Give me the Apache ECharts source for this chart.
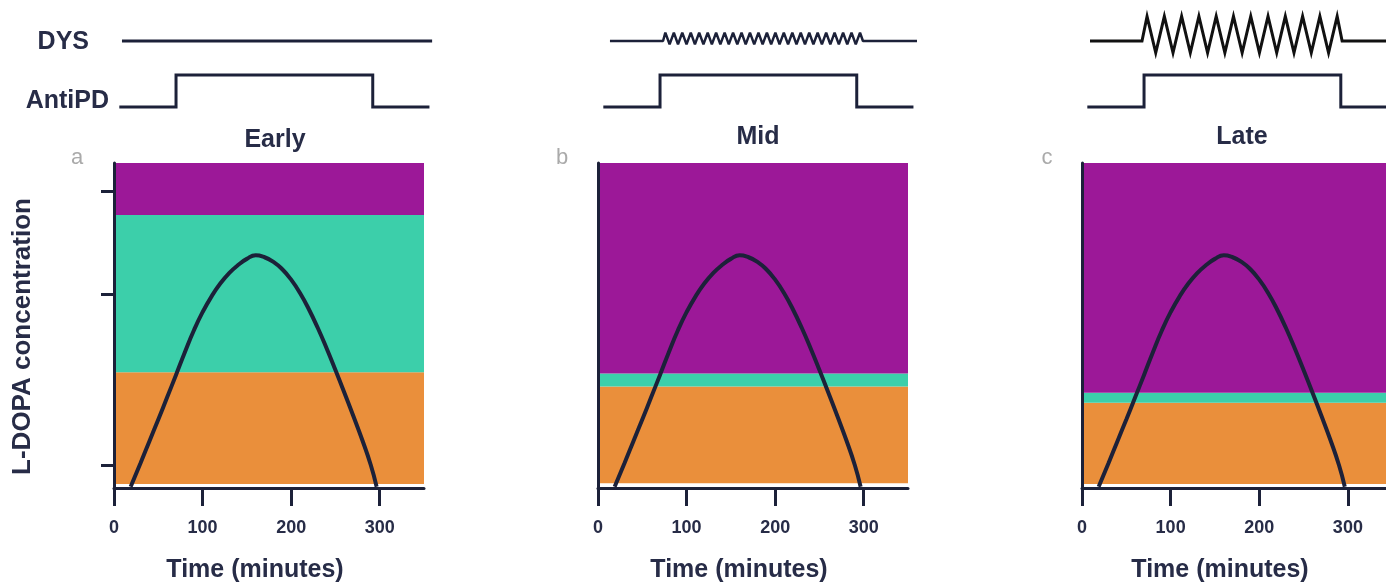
<!DOCTYPE html>
<html>
<head>
<meta charset="utf-8">
<title>L-DOPA concentration</title>
<script src="https://cdn.jsdelivr.net/npm/echarts@6/dist/echarts.min.js"></script>
<style>
  html, body { margin: 0; padding: 0; background: #fff; }
  #main { width: 1386px; height: 582px; }
</style>
</head>
<body>
<div id="main"></div>
<script>
  // tick values
  const timeTicks = [0, 100, 200, 300];
  const concTicks = [7, 59.7, 91.4];

  const panelTitles = ['Early', 'Mid', 'Late'];
  const panelLetters = ['a', 'b', 'c'];

  // same L-DOPA dose curve in every panel (minutes, concentration)
  const doseTimes = [18.8, 30, 40, 50, 60, 70, 80, 90, 100, 110, 120, 130, 140, 150, 160,
    170, 180, 190, 200, 210, 220, 230, 240, 250, 260, 270, 280, 290, 296.5];
  const doseConc = [0.4, 7.7, 14.4, 21.1, 27.9, 34.8, 41.8, 48.4, 54.1, 58.9, 62.9, 66.1, 68.6, 70.5, 71.6,
    71.0, 69.6, 67.3, 64.1, 60.0, 55.0, 49.3, 43.0, 36.3, 29.4, 22.3, 15.0, 7.0, 0.4];

  // band edges: orange [0]-[1], green [1]-[2], purple [2]-[3]
  const bandsEarly = [1.2, 35.6, 84, 100];
  const bandsMid = [1.5, 31.2, 35.2, 100];
  const bandsLate = [1.2, 26.2, 29.3, 100];

  // AntiPD trace (off = 0, on = 1)
  const antiTimes = [6, 70, 70, 292, 292, 356];
  const antiLevels = [0, 0, 1, 1, 0, 0];

  // DYS traces
  const dysEarlyTimes = [9, 359];
  const dysEarlyLevels = [0, 0];

  const dysMidTimes = [13.5, 73.4,
    76.0, 80.8, 85.6, 90.3, 95.1, 99.9, 104.7, 109.4, 114.2, 119.0, 123.8, 128.5,
    133.3, 138.1, 142.9, 147.6, 152.4, 157.2, 162.0, 166.7, 171.5, 176.3, 181.1, 185.8,
    190.6, 195.4, 200.2, 204.9, 209.7, 214.5, 219.3, 224.0, 228.8, 233.6, 238.4, 243.1,
    247.9, 252.7, 257.5, 262.2, 267.0, 271.8, 276.6, 281.3, 286.1, 290.9, 295.7,
    299, 360];
  const dysMidLevels = [0, 0,
    0.3, -0.12, 0.3, -0.12, 0.3, -0.12, 0.3, -0.12, 0.3, -0.12, 0.3, -0.12,
    0.3, -0.12, 0.3, -0.12, 0.3, -0.12, 0.3, -0.12, 0.3, -0.12, 0.3, -0.12,
    0.3, -0.12, 0.3, -0.12, 0.3, -0.12, 0.3, -0.12, 0.3, -0.12, 0.3, -0.12,
    0.3, -0.12, 0.3, -0.12, 0.3, -0.12, 0.3, -0.12, 0.3, -0.12, 0.3,
    0, 0];

  const dysLateTimes = [9, 67.7,
    73.4, 83.2, 92.9, 102.7, 112.4, 122.2, 131.9, 141.7, 151.4, 161.2, 170.9, 180.7,
    190.4, 200.2, 209.9, 219.7, 229.4, 239.2, 248.9, 258.7, 268.4, 278.2, 287.9,
    293.5, 360];
  const dysLateLevels = [0, 0,
    0.88, -0.42, 0.88, -0.42, 0.88, -0.42, 0.88, -0.42, 0.88, -0.42, 0.88, -0.42,
    0.88, -0.42, 0.88, -0.42, 0.88, -0.42, 0.88, -0.42, 0.88, -0.42, 0.88,
    0, 0];

  const bands = [bandsEarly, bandsMid, bandsLate];
  const dysTimes = [dysEarlyTimes, dysMidTimes, dysLateTimes];
  const dysLevels = [dysEarlyLevels, dysMidLevels, dysLateLevels];

  // last panel is cut by the right edge of the page
  const lefts = [114, 598, 1082];
  const widths = [310, 310, 304];
  const maxTimes = [350, 350, 343];
  const lineColor = '#1c2139';
  const textColor = '#272c47';
  const bandColors = ['#ea8f3b', '#3ccfaa', '#9c1898'];
  const font = 'Liberation Sans, Arial, sans-serif';

  const zip = (xs, ys) => xs.map((x, k) => [x, ys[k]]);

  let grid = [], xAxis = [], yAxis = [], series = [], graphic = [];

  for (let i = 0; i < 3; i++) {
    const g = i * 3;
    const pxPerMin = widths[i] / maxTimes[i];
    const traceMax = i === 2 ? maxTimes[i] : 360;
    const traceWidth = Math.round(traceMax * pxPerMin);
    // main plot, DYS trace, AntiPD trace
    grid.push({ left: lefts[i], top: 163, width: widths[i], height: 325, outerBoundsMode: 'none' });
    grid.push({ left: lefts[i], top: 13, width: traceWidth, height: 56, outerBoundsMode: 'none' });
    grid.push({ left: lefts[i], top: 75, width: traceWidth, height: 32, outerBoundsMode: 'none' });

    xAxis.push({
      gridIndex: g, type: 'value', min: 0, max: maxTimes[i], z: 10,
      axisLine: { lineStyle: { color: lineColor, width: 3 } },
      axisTick: { customValues: timeTicks, length: 18, lineStyle: { color: lineColor, width: 3 } },
      axisLabel: { customValues: timeTicks, margin: 31, fontSize: 18, fontWeight: 'bold', color: textColor, fontFamily: font },
      splitLine: { show: false },
      name: 'Time (minutes)', nameLocation: 'middle', nameGap: 70,
      nameTextStyle: { fontSize: 25, fontWeight: 'bold', color: textColor, fontFamily: font, padding: [0, 28, 0, 0] }
    });
    xAxis.push({ gridIndex: g + 1, type: 'value', min: 0, max: traceMax, show: false });
    xAxis.push({ gridIndex: g + 2, type: 'value', min: 0, max: traceMax, show: false });

    yAxis.push({
      gridIndex: g, type: 'value', min: 0, max: 100, z: 10,
      axisLine: { show: true, lineStyle: { color: lineColor, width: 3 } },
      axisTick: { show: i === 0, customValues: concTicks, length: 13, lineStyle: { color: lineColor, width: 3 } },
      axisLabel: { show: false },
      splitLine: { show: false },
      name: i === 0 ? 'L-DOPA concentration' : '', nameLocation: 'middle', nameGap: 78,
      nameTextStyle: { fontSize: 26, fontWeight: 'bold', color: textColor, fontFamily: font, padding: [0, 22, 0, 0] }
    });
    yAxis.push({ gridIndex: g + 1, type: 'value', min: -1, max: 1, show: false });
    yAxis.push({ gridIndex: g + 2, type: 'value', min: 0, max: 1, show: false });

    const b = bands[i];
    series.push({
      type: 'line', xAxisIndex: g, yAxisIndex: g,
      data: zip(doseTimes, doseConc),
      smooth: true, showSymbol: false, silent: true,
      lineStyle: { color: lineColor, width: 4 },
      markArea: {
        silent: true,
        data: [
          [{ yAxis: b[0], itemStyle: { color: bandColors[0] } }, { yAxis: b[1] }],
          [{ yAxis: b[1], itemStyle: { color: bandColors[1] } }, { yAxis: b[2] }],
          [{ yAxis: b[2], itemStyle: { color: bandColors[2] } }, { yAxis: b[3] }]
        ]
      }
    });
    series.push({
      type: 'line', xAxisIndex: g + 1, yAxisIndex: g + 1,
      data: zip(dysTimes[i], dysLevels[i]),
      showSymbol: false, silent: true, clip: false,
      lineStyle: i === 2
        ? { color: '#111', width: 3, join: 'miter', miterLimit: 20 }
        : { color: lineColor, width: i === 1 ? 2.5 : 3, join: 'bevel' }
    });
    series.push({
      type: 'line', xAxisIndex: g + 2, yAxisIndex: g + 2,
      data: zip(antiTimes, antiLevels),
      showSymbol: false, silent: true, clip: false,
      lineStyle: { color: lineColor, width: 3, join: 'miter' }
    });
  }

  const textEl = (x, y, text, size, weight, color, align) => ({
    type: 'text', x: x, y: y, silent: true,
    style: {
      text: text, fill: color, font: weight + ' ' + size + 'px ' + font,
      align: align, textAlign: align, verticalAlign: 'middle', textVerticalAlign: 'middle'
    }
  });

  const titleX = [275, 758, 1242];
  const titleY = [140, 137, 137];
  const letterX = [77, 562, 1047];
  for (let i = 0; i < 3; i++) {
    graphic.push(textEl(titleX[i], titleY[i], panelTitles[i], 25, 'bold', textColor, 'center'));
    graphic.push(textEl(letterX[i], 158, panelLetters[i], 22, 'normal', '#aaaaaa', 'center'));
  }
  graphic.push(textEl(89, 42, 'DYS', 25, 'bold', textColor, 'right'));
  graphic.push(textEl(109, 101, 'AntiPD', 25, 'bold', textColor, 'right'));

  let myChart = echarts.init(document.getElementById('main'));
  myChart.setOption({
    animation: false,
    backgroundColor: '#ffffff',
    grid: grid,
    xAxis: xAxis,
    yAxis: yAxis,
    series: series,
    graphic: graphic
  });
</script>
</body>
</html>
